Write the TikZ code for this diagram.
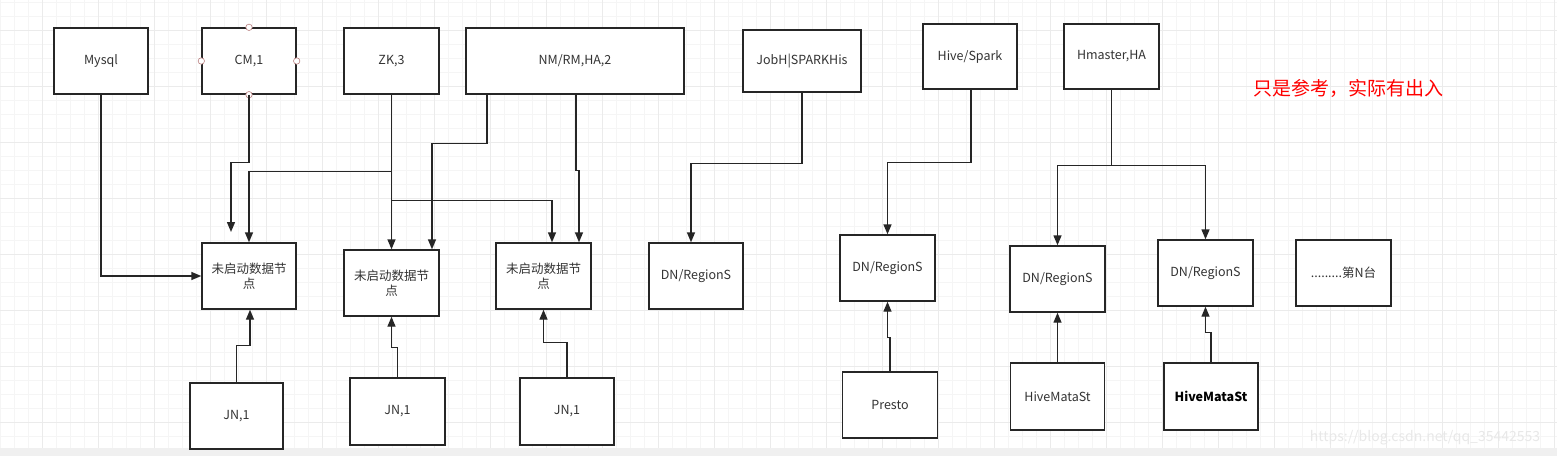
\documentclass[tikz,border=0pt]{standalone}
\usepackage{fontspec}
\setmainfont{Noto Sans CJK SC}
\usetikzlibrary{arrows.meta}
\tikzset{
	box/.style={draw=black!85, line width=1.4pt, fill=white, minimum width=94pt, minimum height=66pt, inner sep=2pt, align=center, font=\fontsize{12.5}{15}\selectfont, text=black!80},
	arr/.style={line width=1.4pt, draw=black!85, -{Triangle[length=10pt,width=8pt]}},
	pin/.style={draw=red!45!black!50, fill=white, line width=0.6pt},
}

\begin{document}
\begin{tikzpicture}[x=1pt, y=-1pt]
			%%%%% START %%%%%
			
			\useasboundingbox (0, 0) rectangle (1557, 456);
			\fill[white] (0, 0) rectangle (1557, 456);
			
			% grid
			\foreach \gx in {0, 14, ..., 1556}
				\draw[line width=0.6pt, color=black!4] (\gx, 0) -- (\gx, 448);
			\foreach \gy in {2, 16, ..., 446}
				\draw[line width=0.6pt, color=black!4] (0, \gy) -- (1557, \gy);
			\foreach \gx in {42, 98, ..., 1556}
				\draw[line width=0.8pt, color=black!8] (\gx, 0) -- (\gx, 448);
			\foreach \gy in {30, 86, ..., 446}
				\draw[line width=0.8pt, color=black!8] (0, \gy) -- (1557, \gy);
			\fill[black!6] (0, 448) rectangle (1557, 456);
			
			% top row
			\node[box] (mysql) at (101, 61) {Mysql};
			\node[box] (cm) at (249, 61) {CM,1};
			\node[box, minimum width=95pt] (zk) at (391.5, 61) {ZK,3};
			\node[box, minimum width=218pt] (nm) at (575, 61) {NM/RM,HA,2};
			\node[box, minimum width=118pt, minimum height=62pt] (jobh) at (802, 61) {JobH|SPARKHis};
			\node[box, minimum height=65pt] (hive) at (970, 56.5) {Hive/Spark};
			\node[box, minimum width=95pt, minimum height=65pt] (hmaster) at (1111.5, 56.5) {Hmaster,HA};
			
			\foreach \side in {north, south, east, west}
				\draw[pin] (cm.\side) circle (3.2);
			
			\node[color=red, font=\fontsize{19}{21}\selectfont] (note) at (1348, 88) {只是参考，实际有出入};
			
			% middle row
			\node[box] (wq1) at (249, 276) {未启动数据节\\点};
			\node[box, minimum width=95pt] (wq2) at (391.5, 283) {未启动数据节\\点};
			\node[box, minimum width=95pt] (wq3) at (543.5, 276) {未启动数据节\\点};
			\node[box] (dn1) at (696, 276) {DN/RegionS};
			\node[box, minimum width=95pt] (dn2) at (887.5, 268) {DN/RegionS};
			\node[box, minimum width=95pt] (dn3) at (1057.5, 279) {DN/RegionS};
			\node[box, minimum width=95pt] (dn4) at (1205.5, 273) {DN/RegionS};
			\node[box, minimum width=95pt] (nth) at (1343.5, 273) {.........第N台};
			
			% bottom row
			\node[box, minimum width=93pt] (jn1) at (236.5, 416) {JN,1};
			\node[box, minimum width=95pt, minimum height=67pt] (jn2) at (397.5, 411.5) {JN,1};
			\node[box, minimum height=67pt] (jn3) at (567, 411.5) {JN,1};
			\node[box, minimum width=95pt] (presto) at (890, 405) {Presto};
			\node[box, minimum height=67pt] (hms1) at (1057.5, 396.5) {HiveMataSt};
			\node[box, minimum height=67pt, font=\fontsize{12.5}{15}\selectfont\bfseries, text=black] (hms2) at (1211, 396.5) {HiveMataSt};
			
			% connectors, top down
			\coordinate (cmend) at (231, 232);
			\draw[arr] (mysql.south) |- (wq1.west);
			\draw[arr] (cm.south) -- ++(0, 68) -| (cmend);
			\draw[arr] (zk.south) -- ++(0, 77) -| (wq1.north);
			\draw[arr] (zk.south) -- (wq2.north);
			\draw[arr] (zk.south) -- ++(0, 106) -| ([xshift=8.5pt]wq3.north);
			\draw[arr] ([xshift=-88pt]nm.south) -- ++(0, 49) -| ([xshift=40.5pt]wq2.north);
			\draw[arr] ([xshift=1pt]nm.south) -- ++(0, 76) -| ([xshift=35.5pt]wq3.north);
			\draw[arr] (jobh.south) -- ++(0, 71) -| ([xshift=-5pt]dn1.north);
			\draw[arr] ([xshift=1pt]hive.south) -- ++(0, 73) -| (dn2.north);
			\draw[arr] (hmaster.south) -- ++(0, 76) -| (dn3.north);
			\draw[arr] (hmaster.south) -- ++(0, 76) -| (dn4.north);
			
			% connectors, bottom up
			\draw[arr] (jn1.north) -- ++(0, -37) -| ([xshift=1pt]wq1.south);
			\draw[arr] (jn2.north) -- ++(0, -30) -| (wq2.south);
			\draw[arr] (jn3.north) -- ++(0, -35) -| (wq3.south);
			\draw[arr] (presto.north) -- ++(0, -34) -| (dn2.south);
			\draw[arr] (hms1.north) -- (dn3.south);
			\draw[arr] (hms2.north) -- ++(0, -30) -| (dn4.south);
			
			\node[color=black!9, font=\fontsize{14}{16}\selectfont] (mark) at (1425, 438) {https://blog.csdn.net/qq\_35442553};
			
			%%%%% END %%%%%
\end{tikzpicture}
\end{document}
